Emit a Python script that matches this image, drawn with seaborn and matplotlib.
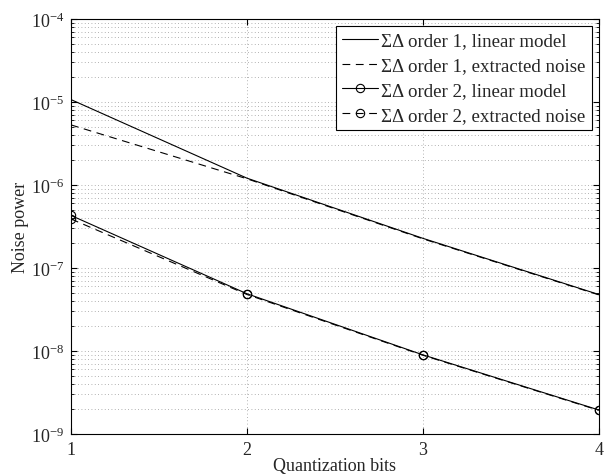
import numpy as np
import pandas as pd
import matplotlib
matplotlib.use("Agg")
import matplotlib.pyplot as plt
import seaborn as sns
from matplotlib.ticker import LogLocator, NullFormatter, FixedLocator

bits = [1, 2, 3, 4]
o1_linear = [1.07e-5, 1.21e-6, 2.28e-7, 4.8e-8]
o1_extracted = [5.3e-6, 1.19e-6, 2.25e-7, 4.75e-8]
o2_linear = [4.3e-7, 4.9e-8, 9.0e-9, 1.95e-9]
o2_extracted = [3.9e-7, 4.8e-8, 8.9e-9, 1.93e-9]
labels = ["ΣΔ order 1, linear model", "ΣΔ order 1, extracted noise",
          "ΣΔ order 2, linear model", "ΣΔ order 2, extracted noise"]

sns.set_style("ticks")
plt.rcParams['font.family'] = ['Liberation Serif', 'DejaVu Serif']
plt.rcParams['mathtext.fontset'] = 'stix'

fig = plt.figure(figsize=(6.08, 4.77), dpi=100)
ax = fig.add_axes([0.1168, 0.088, 0.868, 0.870])

series = [o1_linear, o1_extracted, o2_linear, o2_extracted]
dash = (0, (7, 5))
styles = ['-', dash, '-', dash]
markers = [None, None, 'o', 'o']
for vals, ls, mk, lab in zip(series, styles, markers, labels):
    kw = dict(x=bits, y=vals, ax=ax, color='k', linestyle=ls, linewidth=0.8, label=lab)
    if mk:
        kw.update(marker='o', markersize=6, markerfacecolor='none', markeredgecolor='k', markeredgewidth=0.8)
    sns.lineplot(**kw)

ax.set_yscale('log')
ax.set_xlim(1, 4)
ax.set_ylim(1e-9, 1e-4)
ax.xaxis.set_major_locator(FixedLocator(bits))
ax.yaxis.set_major_locator(LogLocator(base=10, numticks=10))
ax.yaxis.set_minor_locator(LogLocator(base=10, subs=np.arange(2, 10), numticks=20))
ax.yaxis.set_minor_formatter(NullFormatter())

ax.grid(True, which='major', axis='both', linestyle=(0, (1, 3)), color='#999999', linewidth=0.6)
ax.grid(True, which='minor', axis='y', linestyle=(0, (1, 3)), color='#999999', linewidth=0.6)

ax.tick_params(which='both', direction='in', top=True, right=True, labelsize=13, color='k')
ax.tick_params(which='major', length=4, pad=5)
ax.tick_params(which='minor', length=2)
for s in ax.spines.values():
    s.set_visible(True)
    s.set_linewidth(0.8)
    s.set_color('k')

ax.set_xlabel("Quantization bits", fontsize=13, labelpad=-1)
ax.set_ylabel("Noise power", fontsize=13, labelpad=1)

leg = ax.legend(loc='upper right', fontsize=13.6, frameon=True, fancybox=False,
                edgecolor='k', framealpha=1, handlelength=1.9, handletextpad=0.15,
                borderpad=0.35, labelspacing=0.4, borderaxespad=0.35, numpoints=1)
leg.get_frame().set_linewidth(0.8)

fig.savefig("out.png", dpi=100)
